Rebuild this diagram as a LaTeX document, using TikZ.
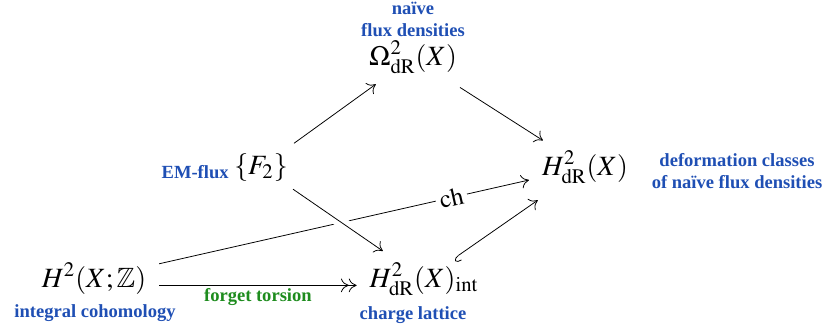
\documentclass[tikz,border=0pt]{standalone}
\usepackage{amsmath,amssymb}
\usepackage{mathptmx}
\usepackage{fontspec}
\setmainfont{Liberation Serif}
\usepackage{tikz}
\usetikzlibrary{arrows.meta,positioning}
\definecolor{labelblue}{HTML}{1F4FB4}
\definecolor{labelgreen}{HTML}{1E8C1E}
\newcommand{\dR}{\mathrm{dR}}
\tikzset{
  obj/.style={anchor=base,inner xsep=6.5pt,inner ysep=2pt,font=\fontsize{14.3}{17}\selectfont},
  lbl/.style={text=labelblue,font=\fontsize{9.5}{11.2}\selectfont\bfseries,align=center,inner sep=1pt},
  map/.style={->,thin},
}

\begin{document}
\begin{tikzpicture}[x=0.018cm,y=-0.018cm,>={To[length=4pt,width=7pt]}]
  \useasboundingbox (0,0) rectangle (825,325);
  \node[obj] (om) at (413,65) {$\Omega^2_{\dR}(X)$};
  \node[obj] (flux) at (261,174) {$\{F_2\}$};
  \node[obj] (hdr) at (585,175) {$H^2_{\dR}(X)$};
  \node[obj] (hz) at (94,287) {$H^2(X;\mathbb{Z})$};
  \node[obj] (hint) at (424,287) {$H^2_{\dR}(X)_{\mathrm{int}}$};
  \node[lbl] (omlbl) at (413,19) {naïve\\flux densities};
  \node[lbl,anchor=east] (fluxlbl) at (231,172) {EM-flux};
  \node[lbl] (hdrlbl) at (737,171) {deformation classes\\of naïve flux densities};
  \node[lbl] (hzlbl) at (95,313) {integral cohomology};
  \node[lbl] (hintlbl) at (413,315) {charge lattice};
  \draw[map,shorten <=5pt,shorten >=5.5pt] (flux) -- (om);
  \draw[map,shorten <=9pt,shorten >=6pt] (om) -- (hdr);
  \draw[map] (hz) -- node[pos=0.79,sloped,fill=white,inner sep=2pt,font=\fontsize{13}{15}\selectfont] (ch) {$\mathrm{ch}$} (hdr);
  \draw[map,shorten <=3.5pt,shorten >=7pt,preaction={draw=white,line width=6pt,-}] (flux) -- (hint);
  \draw[{Hooks[left,length=3pt,width=6pt]}->,thin,shorten >=11pt] (hint) -- (hdr);
  \draw[->>,thin] ([yshift=-3.5pt]hz.east) -- node[below=0.5pt,lbl,text=labelgreen] (forget) {forget torsion} ([yshift=-3.5pt]hz.east -| hint.west);
\end{tikzpicture}
\end{document}
